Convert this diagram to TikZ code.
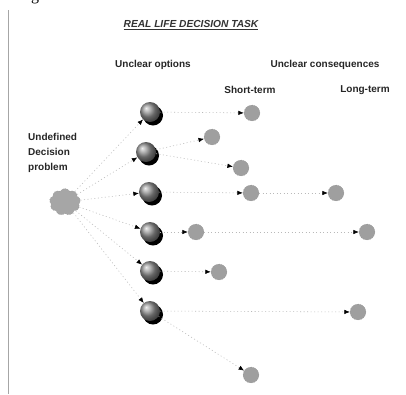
\documentclass[tikz,border=0pt]{standalone}
\usepackage{fontspec}
\setmainfont{Liberation Sans}
\newfontfamily\serifg{Liberation Serif}
\usetikzlibrary{arrows.meta,shapes.symbols,shadows}
\begin{document}
\begin{tikzpicture}[x=1pt,y=-1pt,
  lbl/.style={font=\fontsize{10}{15}\selectfont\bfseries, text=black!85, inner sep=0pt},
  opt/.style={circle, minimum size=20pt, inner sep=0pt, shading=ball, ball color=gray!85,
    drop shadow={opacity=1, fill=black, shadow xshift=3pt, shadow yshift=-3.5pt}},
  cons/.style={circle, minimum size=16pt, inner sep=0pt, fill=gray!75, draw=gray!90, dotted},
  prob/.style={cloud, cloud puffs=9, cloud puff arc=120, aspect=1.2, minimum width=31pt, minimum height=27pt, inner sep=0pt, fill=gray!70, draw=gray!90, dotted},
  link/.style={draw=gray!55, dash pattern=on 1pt off 2.5pt, line width=0.55pt,
    -{Latex[length=5.5pt,width=4.5pt,color=black]}}
]
\useasboundingbox (0,0) rectangle (406,394);
\fill[white] (0,0) rectangle (406,394);
% fragments of the page
\node[font=\serifg\fontsize{16}{16}\selectfont, anchor=base, inner sep=0pt] (gfrag) at (35,0) {g};
\draw[gray!70, line width=0.8pt] (8,10) -- (8,394);
% titles
\node[font=\fontsize{10.2}{12}\selectfont\bfseries\itshape, text=black!80, inner sep=0pt] (title) at (191,25) {\underline{REAL LIFE DECISION TASK}};
\node[lbl] (uo) at (153,65) {Unclear options};
\node[lbl] (uc) at (325,65) {Unclear consequences};
\node[lbl] (st) at (250,90) {Short-term};
\node[lbl] (lt) at (365,90) {Long-term};
\node[lbl, align=left, anchor=west] (udp) at (28,153) {Undefined\\Decision\\problem};
% problem
\node[prob] (p) at (65,202) {};
% options
\node[opt] (o1) at (150,112) {};
\node[opt] (o2) at (146,152) {};
\node[opt] (o3) at (149,192) {};
\node[opt] (o4) at (150,232) {};
\node[opt] (o5) at (150,271) {};
\node[opt] (o6) at (150,311) {};
% consequences
\node[cons] (c1) at (252,113) {};
\node[cons] (c2a) at (212,137) {};
\node[cons] (c2b) at (241,168) {};
\node[cons] (c3a) at (251,193) {};
\node[cons] (c3b) at (336,193) {};
\node[cons] (c4a) at (196,232) {};
\node[cons] (c4b) at (367,232) {};
\node[cons] (c5) at (219,272) {};
\node[cons] (c6a) at (358,312) {};
\node[cons] (c6b) at (251,375) {};
% links
\foreach \o in {o1,o2,o3,o4,o5,o6} \draw[link] (p) -- (\o);
\draw[link] (o1) -- (c1);
\draw[link] (o2) -- (c2a);
\draw[link] (o2) -- (c2b);
\draw[link] (o3) -- (c3a);
\draw[link] (c3a) -- (c3b);
\draw[link] (o4) -- (c4a);
\draw[link] (c4a) -- (c4b);
\draw[link] (o5) -- (c5);
\draw[link] (o6) -- (c6a);
\draw[link] (o6) -- (c6b);
\end{tikzpicture}
\end{document}
